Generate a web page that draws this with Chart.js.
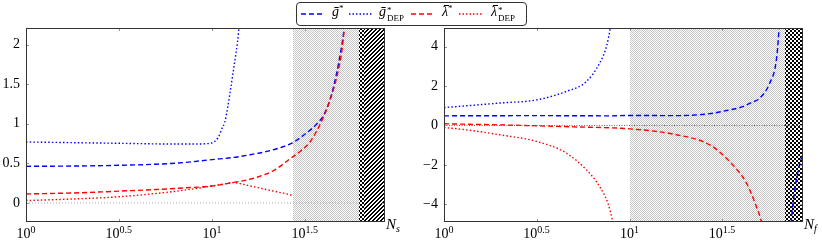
<!DOCTYPE html>
<html><head><meta charset="utf-8">
<script src="https://cdn.jsdelivr.net/npm/chart.js@4.4.0/dist/chart.umd.min.js"></script>
<style>
html,body{margin:0;padding:0;background:#fff;}
#wrap{position:relative;width:822px;height:242px;overflow:hidden;font-family:"Liberation Serif","DejaVu Serif","Times New Roman",serif;color:#000;}
canvas{position:absolute;top:0;}
.lbl{position:absolute;font-size:14px;line-height:14px;white-space:nowrap;}
.lbl sup{font-size:10px;vertical-align:5px;line-height:0;}
.ax{position:absolute;font-size:15px;line-height:15px;font-style:italic;white-space:nowrap;}
.ax sub{font-size:10px;vertical-align:-3px;line-height:0;}
#legend{position:absolute;left:296px;top:2px;width:229px;height:22px;border:1px solid #333;border-radius:4px;background:#fff;z-index:5;}
#legend svg{position:absolute;left:0;top:0;}
.lt{position:absolute;top:2px;font-size:14px;line-height:14px;white-space:nowrap;}
.st{font-size:9px;vertical-align:5px;line-height:0;}
.ss{display:inline-block;vertical-align:-5px;font-size:9px;line-height:8px;font-style:normal;margin-left:1px;}
.ss span{display:block;}
.bar{position:relative;font-style:italic;}
.bar::after{content:'';position:absolute;left:2px;right:-1px;top:1px;border-top:1px solid #000;}
</style></head>
<body>
<div id="wrap">
  <canvas id="cL" width="400" height="242" style="left:0px"></canvas>
  <canvas id="cR" width="422" height="242" style="left:400px"></canvas>
  <div id="legend">
    <svg width="229" height="22">
      <line x1="4" y1="11" x2="28" y2="11" stroke="#0000ff" stroke-width="1.4" stroke-dasharray="5,3"/>
      <line x1="52" y1="11" x2="76" y2="11" stroke="#0000ff" stroke-width="1.4" stroke-dasharray="1.5,2"/>
      <line x1="114" y1="11" x2="138" y2="11" stroke="#ff0000" stroke-width="1.4" stroke-dasharray="5,3"/>
      <line x1="162" y1="11" x2="186" y2="11" stroke="#ff0000" stroke-width="1.4" stroke-dasharray="1.5,2"/>
    </svg>
    <span class="lt" style="left:35px"><i>ḡ</i><span class="st">*</span></span>
    <span class="lt" style="left:82px"><i>ḡ</i><span class="ss"><span>*</span><span>DEP</span></span></span>
    <span class="lt" style="left:145px"><span class="bar">λ</span><span class="st">*</span></span>
    <span class="lt" style="left:194px"><span class="bar">λ</span><span class="ss"><span>*</span><span>DEP</span></span></span>
  </div>
</div>
<script>
// ---------- data ----------
// Left panel (x = N_s)
const leftGBarN   = [1, 2, 3.16, 5, 7, 10, 13, 16, 20, 24, 27, 31, 36.6, 40, 44, 48, 51.3, 53];
const leftGBarV   = [0.463, 0.468, 0.476, 0.49, 0.51, 0.548, 0.575, 0.61, 0.655, 0.71, 0.758, 0.855, 1.0, 1.12, 1.38, 1.78, 2.2, 2.5];
const leftGDepN   = [1, 1.5, 2, 3, 4, 6, 8, 9.5, 10.2, 10.8, 11.3, 11.7, 12.1, 12.5, 12.9, 13.3, 13.7, 13.9, 14.2];
const leftGDepV   = [0.77, 0.765, 0.76, 0.755, 0.75, 0.745, 0.745, 0.75, 0.77, 0.83, 0.94, 1.02, 1.19, 1.40, 1.61, 1.82, 2.03, 2.17, 2.4];
const leftLamN    = [1, 2, 3.16, 5, 7, 10, 13, 16, 21.4, 26.3, 30, 33.6, 39.7, 43, 46.8, 49.9, 51.3, 52.5];
const leftLamV    = [0.114, 0.13, 0.15, 0.17, 0.19, 0.215, 0.26, 0.30, 0.41, 0.56, 0.66, 0.77, 1.086, 1.30, 1.59, 1.93, 2.2, 2.5];
const leftLamDepN = [1, 2, 3, 5, 7, 10, 12, 13, 16, 20, 24, 27.2];
const leftLamDepV = [0.03, 0.055, 0.075, 0.12, 0.16, 0.215, 0.245, 0.257, 0.215, 0.165, 0.125, 0.097];
const leftZeroN   = [1, 62];
const leftYTicks  = [0, 0.5, 1, 1.5, 2];
const leftRegions = [[27.2, 61.9, 'light'], [61.9, 65.7, 'dark'], [65.7, 85, 'hatch']];

// Right panel (x = N_f)
const rightGBarN   = [1, 3.16, 7.8, 10, 17.9, 27, 33.3, 40.8, 45, 50.2, 56.9, 61.8, 63.8, 65, 67, 72, 74.5, 79.2, 85.3, 86];
const rightGBarV   = [0.49, 0.50, 0.49, 0.51, 0.5, 0.6, 0.76, 0.96, 1.15, 1.39, 2.15, 3.33, 4.86, 6.5, null, -7, -4.79, -2.76, -1.49, -1.4];
const rightGDepN   = [1, 1.32, 2, 3.16, 4.56, 5.85, 6.9, 7.5, 7.87, 8.1];
const rightGDepV   = [0.91, 1.0, 1.14, 1.30, 1.73, 2.23, 3.17, 4.0, 4.92, 5.6];
const rightLamN    = [1, 2, 3.16, 5, 10, 17.9, 27, 34.6, 42.6, 48.2, 51.3, 53];
const rightLamV    = [0.086, 0.03, -0.015, -0.07, -0.17, -0.47, -0.98, -1.83, -2.92, -4.11, -4.87, -5.5];
const rightLamDepN = [1, 1.32, 1.99, 3.16, 4.56, 5.85, 6.9, 7.64, 8.12, 8.4];
const rightLamDepV = [-0.1, -0.22, -0.47, -0.81, -1.40, -2.25, -3.1, -3.94, -4.87, -5.5];
const rightZeroN   = [1, 86];
const rightYTicks  = [-4, -2, 0, 2, 4];
const rightRegions = [[10, 69, 'light'], [69, 86, 'dark']];

const xTickExps = [0, 0.5, 1, 1.5];

// ---------- helpers ----------
const FONT = '"Liberation Serif", "DejaVu Serif", "Times New Roman", serif';
Chart.defaults.font.family = FONT;
Chart.defaults.color = '#000';

function pts(xs, ys) { return xs.map((x, i) => ({ x: x, y: ys[i] })); }

function tile(size, fn) {
  const c = document.createElement('canvas');
  c.width = size; c.height = size;
  const g = c.getContext('2d');
  const img = g.createImageData(size, size);
  for (let y = 0; y < size; y++) for (let x = 0; x < size; x++) {
    const v = fn(x, y); const k = (y * size + x) * 4;
    img.data[k] = v; img.data[k + 1] = v; img.data[k + 2] = v; img.data[k + 3] = 255;
  }
  g.putImageData(img, 0, 0);
  return c;
}
const tiles = {
  light: tile(2, (x, y) => ((x + y) % 2 === 0 ? 196 : 255)),
  dark:  tile(4, (x, y) => ((Math.floor(x / 2) + Math.floor(y / 2)) % 2 === 0 ? 0 : 255)),
  hatch: tile(4, (x, y) => ((x + y) % 4 < 2 ? 0 : 255))
};

const panelPlugin = {
  id: 'panel',
  beforeDatasetsDraw(chart, args, opts) {
    const ctx = chart.ctx, a = chart.chartArea, x = chart.scales.x;
    ctx.save();
    ctx.beginPath(); ctx.rect(a.left, a.top, a.right - a.left, a.bottom - a.top); ctx.clip();
    opts.regions.forEach(r => {
      const x0 = Math.round(x.getPixelForValue(r[0])), x1 = Math.round(x.getPixelForValue(r[1]));
      ctx.fillStyle = ctx.createPattern(tiles[r[2]], 'repeat');
      ctx.fillRect(x0, a.top, x1 - x0, a.bottom - a.top);
    });
    ctx.restore();
  },
  afterDatasetsDraw(chart, args, opts) {
    const ctx = chart.ctx, a = chart.chartArea, x = chart.scales.x, y = chart.scales.y;
    ctx.save();
    ctx.strokeStyle = '#999'; ctx.lineWidth = 1;
    ctx.beginPath();
    opts.yTicks.forEach(v => {
      const py = Math.round(y.getPixelForValue(v)) + 0.5;
      ctx.moveTo(a.left, py); ctx.lineTo(a.left + 3, py);
      ctx.moveTo(a.right, py); ctx.lineTo(a.right - 3, py);
    });
    xTickExps.forEach(e => {
      const px = Math.round(x.getPixelForValue(Math.pow(10, e))) + 0.5;
      ctx.moveTo(px, a.bottom); ctx.lineTo(px, a.bottom - 3);
      ctx.moveTo(px, a.top); ctx.lineTo(px, a.top + 3);
    });
    ctx.stroke();
    ctx.strokeStyle = '#333';
    ctx.strokeRect(Math.round(a.left) + 0.5, Math.round(a.top) + 0.5,
                   Math.round(a.right - a.left) - 1, Math.round(a.bottom - a.top) - 1);
    ctx.restore();
  }
};

function ds(data, color, dash, width) {
  return { data: data, borderColor: color, borderDash: dash, borderWidth: width || 1.4,
           pointRadius: 0, fill: false, cubicInterpolationMode: 'monotone', spanGaps: false };
}

function makeChart(id, cfg) {
  return new Chart(document.getElementById(id), {
    type: 'line',
    data: { datasets: cfg.datasets },
    options: {
      responsive: false, animation: false, devicePixelRatio: 1,
      layout: { padding: { left: 0, top: 28, bottom: 20, right: cfg.padRight } },
      plugins: { legend: { display: false }, tooltip: { enabled: false },
                 panel: { regions: cfg.regions, yTicks: cfg.yTicks } },
      scales: {
        x: { type: 'logarithmic', display: false, min: 1, max: cfg.xMax },
        y: {
          type: 'linear', min: cfg.yMin, max: cfg.yMax,
          grid: { display: false, drawTicks: false }, border: { display: false },
          afterBuildTicks: s => { s.ticks = cfg.yTicks.map(v => ({ value: v })); },
          afterFit: s => { s.width = cfg.yWidth; },
          ticks: { padding: 6, font: { size: 14, family: FONT }, color: '#000',
                   callback: v => String(v).replace('-', '\u2212') }
        }
      }
    },
    plugins: [panelPlugin]
  });
}

const chartL = makeChart('cL', {
  xMax: 85, yMin: -0.24, yMax: 2.21, yWidth: 26, padRight: 15,
  yTicks: leftYTicks, regions: leftRegions,
  datasets: [
    ds(pts(leftZeroN, leftZeroN.map(() => 0)), '#aaaaaa', [1, 2], 1),
    ds(pts(leftLamDepN, leftLamDepV), '#ff0000', [1.5, 2.2]),
    ds(pts(leftGDepN, leftGDepV), '#0000ff', [1.5, 2.2]),
    ds(pts(leftLamN, leftLamV), '#ff0000', [5, 3]),
    ds(pts(leftGBarN, leftGBarV), '#0000ff', [5, 3])
  ]
});
const chartR = makeChart('cR', {
  xMax: 86, yMin: -4.9, yMax: 4.95, yWidth: 44, padRight: 19,
  yTicks: rightYTicks, regions: rightRegions,
  datasets: [
    ds(pts(rightZeroN, rightZeroN.map(() => 0)), '#666666', [1, 1.5], 1),
    ds(pts(rightLamDepN, rightLamDepV), '#ff0000', [1.5, 2.2]),
    ds(pts(rightGDepN, rightGDepV), '#0000ff', [1.5, 2.2]),
    ds(pts(rightLamN, rightLamV), '#ff0000', [5, 3]),
    ds(pts(rightGBarN, rightGBarV), '#0000ff', [5, 3])
  ]
});

// x tick labels (10^k) and axis labels, positioned with the chart scales
const wrap = document.getElementById('wrap');
function addXLabels(chart, offset, axisName) {
  const x = chart.scales.x, a = chart.chartArea;
  xTickExps.forEach(e => {
    const s = document.createElement('span');
    s.className = 'lbl';
    s.innerHTML = '10<sup>' + e + '</sup>';
    wrap.appendChild(s);
    const px = offset + x.getPixelForValue(Math.pow(10, e));
    s.style.left = (px - s.offsetWidth / 2) + 'px';
    s.style.top = (a.bottom + 5) + 'px';
  });
  const t = document.createElement('span');
  t.className = 'ax';
  t.innerHTML = 'N<sub>' + axisName + '</sub>';
  wrap.appendChild(t);
  t.style.left = (offset + a.right + 1) + 'px';
  t.style.top = (a.bottom - 5) + 'px';
}
addXLabels(chartL, 0, 's');
addXLabels(chartR, 400, 'f');
</script>
</body></html>
